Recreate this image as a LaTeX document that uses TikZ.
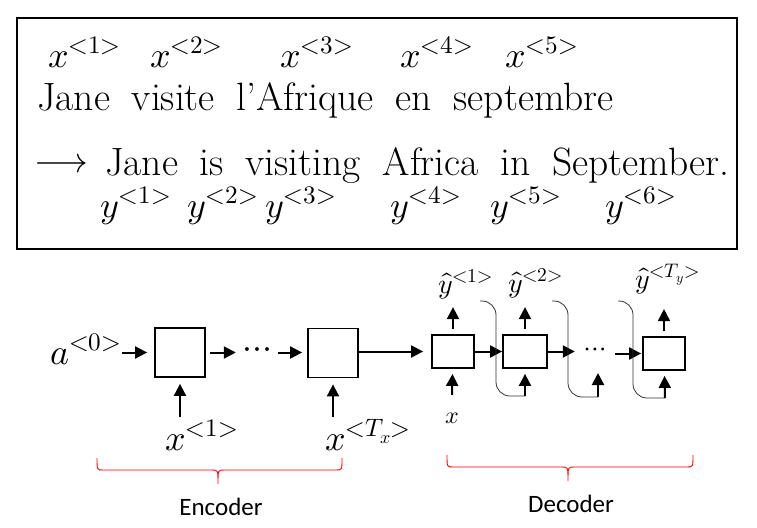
\documentclass[tikz,border=0pt]{standalone}
\usepackage{fontspec}
\usepackage{unicode-math}
\newfontfamily\calibri{Carlito}
\usetikzlibrary{arrows.meta}

\begin{document}
\begin{tikzpicture}[x=1pt,y=-1pt,>={Triangle[length=12pt,width=12pt]},
  big/.style={font=\fontsize{36}{40}\selectfont,inner sep=0pt},
  sentence/.style={big,font={\fontsize{39.5}{44}\selectfont\spaceskip 0.55em\relax}},
  small/.style={font=\fontsize{28}{32}\selectfont,inner sep=0pt},
  cell/.style={draw,line width=1.8pt,inner sep=0pt},
  flow/.style={->,line width=2pt},
  feedback/.style={line width=0.8pt,black!80,rounded corners=14pt},
  bracket/.style={red,line width=0.9pt}]
  \useasboundingbox (0,0) rectangle (757,527);
  % sentence pair
  \draw[line width=2pt] (17,18) rectangle (737,249);
  \foreach \px/\n in {48/1,150/2,280/3,400/4,505/5}
    \node[big,anchor=base west] (x\n) at (\px,67) {$x^{<\n>}$};
  \node[sentence,anchor=base west] (fr) at (37,110) {Jane visite l'Afrique en septembre};
  \node[big,anchor=west] (arrow) at (35,163) {$\longrightarrow$};
  \node[sentence,anchor=base west] (en) at (105,175) {Jane is visiting Africa in September.};
  \foreach \px/\n in {100/1,187/2,265/3,390/4,490/5,605/6}
    \node[big,anchor=base west] (y\n) at (\px,217) {$y^{<\n>}$};

  % encoder
  \node[cell,minimum width=50pt,minimum height=49pt] (enc1) at (180,352.5) {};
  \node[cell,minimum width=50pt,minimum height=49pt] (enc2) at (333,353) {};
  \node[big,minimum width=42pt] (edots) at (257,353) {$\cdots$};
  \node[big,anchor=base west] (a0) at (50,364) {$a^{<0>}$};
  \node[big,anchor=base west] (xin1) at (165,450) {$x^{<1>}$};
  \node[big,anchor=base west] (xinT) at (325,450) {$x^{<T_x>}$};
  \draw[flow,shorten >=7pt] (a0.east |- enc1) -- (enc1.west);
  \draw[flow,shorten <=4pt] (enc1) -- (edots.west |- enc1);
  \draw[flow,shorten >=5pt] (edots.east |- enc1) -- (enc1 -| enc2.west);
  \draw[flow,shorten <=3pt,shorten >=6pt] (xin1.north -| enc1) -- (enc1.south);
  \draw[flow,shorten <=3pt,shorten >=6pt] (xinT.north -| enc2) -- (enc2.south);

  % decoder
  \node[cell,minimum width=42pt,minimum height=33pt] (dec1) at (453,351.5) {};
  \node[cell,minimum width=44pt,minimum height=33pt] (dec2) at (525,351.5) {};
  \node[cell,minimum width=42pt,minimum height=33pt] (dec3) at (664,353.5) {};
  \node[small,minimum width=40pt] (ddots) at (595,352) {$\cdots$};
  \draw[flow,shorten >=8pt] (enc2.east |- dec1) -- (dec1.west);
  \draw[flow] (dec1) -- (dec2);
  \draw[flow,shorten <=-2pt] (dec2.east) -- (ddots.west |- dec2);
  \draw[flow,shorten >=1pt] (ddots.east |- dec3) -- (dec3.west);
  \node[small,anchor=base west] (yh1) at (438,293) {$\hat{y}^{<1>}$};
  \node[small,anchor=base west] (yh2) at (508,292) {$\hat{y}^{<2>}$};
  \node[small,anchor=base west] (yhT) at (635,288) {$\hat{y}^{<T_y>}$};
  \foreach \d in {dec1,dec2,dec3}
    \draw[flow,shorten <=5pt] (\d.north) -- ++(0,-27);
  \node[font=\fontsize{24}{28}\selectfont,inner sep=0pt] (xd) at (452,418) {$x$};
  \coordinate (t1) at (452,395);
  \coordinate (t2) at (525,396);
  \coordinate (t3) at (598,397);
  \coordinate (t4) at (665,398);
  \draw[flow,shorten >=5pt] (t1) -- (dec1);
  \draw[flow,shorten >=5pt] (t2) -- (dec2);
  \draw[flow] (t3) -- ++(0,-24);
  \draw[flow,shorten >=5pt] (t4) -- (dec3);
  % outputs fed back as next inputs
  \foreach \sx/\vx/\t in {480/496/t2,552/568/t3,618/633/t4}
    \draw[feedback] (\sx,301) -- (\vx,301) -- (\vx,301 |- \t) -- (\t);

  % braces
  \foreach \l/\m/\r/\yb/\name/\txt in {97/218/342/458/enc/Encoder,447/568/693/455/dec/Decoder}{
    \draw[bracket] (\l,\yb) .. controls (\l,\yb+12) .. (\l+6,\yb+12) -- (\m-6,\yb+12)
      .. controls (\m,\yb+12) .. (\m,\yb+26) .. controls (\m,\yb+12) .. (\m+6,\yb+12)
      -- (\r-6,\yb+12) .. controls (\r,\yb+12) .. (\r,\yb);
    \node[font=\calibri\fontsize{25}{28}\selectfont,inner sep=0pt] (\name) at (\m+3,\yb+49) {\txt};
  }
\end{tikzpicture}
\end{document}
